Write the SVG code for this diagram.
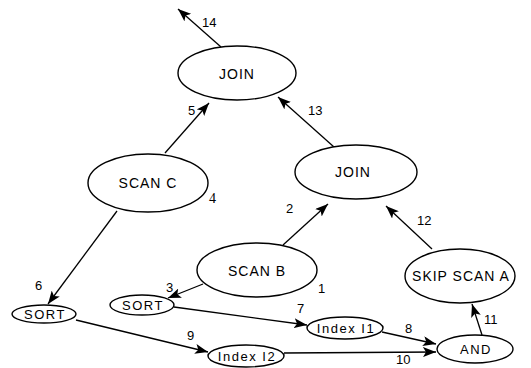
<svg xmlns="http://www.w3.org/2000/svg" width="531" height="368" viewBox="0 0 531 368">
  <style>
    .node ellipse { fill: #fff; stroke: #000; stroke-width: 1.4; }
    .big text { font-family: "Liberation Sans", Arial, sans-serif; font-size: 14px; letter-spacing: 1px; text-anchor: middle; dominant-baseline: central; fill: #000; }
    .small text { font-family: "Liberation Sans", Arial, sans-serif; font-size: 13px; letter-spacing: 1.5px; text-anchor: middle; dominant-baseline: central; fill: #000; }
    .edge { stroke: #000; stroke-width: 1.3; fill: none; marker-end: url(#arrow); }
    .num { font-family: "Liberation Sans", Arial, sans-serif; font-size: 13px; fill: #000; }
    .serif { font-family: "Liberation Serif", "Times New Roman", serif; font-size: 14px; }
  </style>
  <defs>
    <marker id="arrow" markerUnits="userSpaceOnUse" markerWidth="14" markerHeight="10" refX="13" refY="5" orient="auto">
      <path d="M0,0 L13,5 L0,10 L3,5 Z" fill="#000"/>
    </marker>
  </defs>

  <g id="connectors">
    <line class="edge" x1="221" y1="47" x2="178" y2="9"/>
    <line class="edge" x1="165" y1="153" x2="209" y2="103"/>
    <line class="edge" x1="334" y1="147" x2="278" y2="97"/>
    <line class="edge" x1="283" y1="245" x2="328" y2="204"/>
    <line class="edge" x1="432" y1="249" x2="386" y2="206"/>
    <line class="edge" x1="482" y1="335" x2="472" y2="304"/>
    <line class="edge" x1="382" y1="332" x2="436" y2="344"/>
    <line class="edge" x1="284" y1="353" x2="436" y2="352"/>
    <line class="edge" x1="174" y1="307" x2="307" y2="325"/>
    <line class="edge" x1="76" y1="320" x2="208" y2="352"/>
    <line class="edge" x1="203" y1="284" x2="168" y2="298"/>
    <line class="edge" x1="117" y1="211" x2="48" y2="304"/>

    <text class="num" x="202" y="27">14</text>
    <text class="num" x="188" y="115">5</text>
    <text class="num" x="308" y="115">13</text>
    <text class="num" x="286" y="213">2</text>
    <text class="num" x="417" y="225">12</text>
    <text class="num" x="484" y="324">11</text>
    <text class="num" x="405" y="333">8</text>
    <text class="num" x="396" y="364">10</text>
    <text class="num" x="297" y="313">7</text>
    <text class="num" x="187" y="340">9</text>
    <text class="num" x="166" y="292">3</text>
    <text class="num" x="35" y="290">6</text>
    <text class="num" x="318" y="293">1</text>
    <text class="num serif" x="209" y="203">4</text>
  </g>

  <g id="join-top" class="node big">
    <ellipse cx="237" cy="73" rx="59" ry="27"/>
    <text x="237" y="74">JOIN</text>
  </g>
  <g id="join-right" class="node big">
    <ellipse cx="356" cy="172" rx="61" ry="27"/>
    <text x="353" y="172">JOIN</text>
  </g>
  <g id="scan-c" class="node big">
    <ellipse cx="148" cy="183" rx="60" ry="29"/>
    <text x="148" y="183">SCAN C</text>
  </g>
  <g id="scan-b" class="node big">
    <ellipse cx="257" cy="270" rx="60" ry="27"/>
    <text x="257" y="271">SCAN B</text>
  </g>
  <g id="skip-scan-a" class="node big">
    <ellipse cx="460" cy="276" rx="55" ry="27"/>
    <text x="461" y="276">SKIP SCAN A</text>
  </g>
  <g id="sort-left" class="node small">
    <ellipse cx="44" cy="314" rx="32" ry="9"/>
    <text x="45" y="314">SORT</text>
  </g>
  <g id="sort-mid" class="node small">
    <ellipse cx="142" cy="305" rx="32" ry="10"/>
    <text x="143" y="305">SORT</text>
  </g>
  <g id="index-i1" class="node small">
    <ellipse cx="345" cy="328" rx="38" ry="11"/>
    <text x="346" y="328">Index I1</text>
  </g>
  <g id="index-i2" class="node small">
    <ellipse cx="246" cy="356" rx="38" ry="11"/>
    <text x="247" y="356">Index I2</text>
  </g>
  <g id="and" class="node small">
    <ellipse cx="475" cy="349" rx="38" ry="14"/>
    <text x="476" y="349">AND</text>
  </g>
</svg>
